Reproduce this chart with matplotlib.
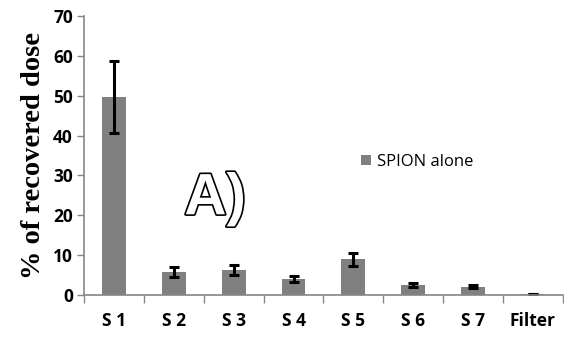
import matplotlib
matplotlib.use("Agg")
import matplotlib.pyplot as plt
import matplotlib.patheffects as pe
import numpy as np

categories = ["S 1", "S 2", "S 3", "S 4", "S 5", "S 6", "S 7", "Filter"]
values = [49.7, 5.8, 6.3, 4.0, 8.9, 2.6, 2.1, 0.2]
errors = [9.0, 1.2, 1.2, 0.8, 1.7, 0.5, 0.4, 0.0]
yticks = [0, 10, 20, 30, 40, 50, 60, 70]

fig = plt.figure(figsize=(5.64, 3.39), dpi=100)
ax = fig.add_axes([0.149, 0.13, 0.849, 0.823])
x = np.arange(len(categories))
ax.bar(x, values, width=0.4, color="#808080", yerr=errors,
       error_kw=dict(ecolor="black", elinewidth=2.2, capsize=3.5, capthick=2.2),
       label="SPION alone", zorder=2)
ax.set_xlim(-0.5, len(categories) - 0.5)
ax.set_ylim(0, 70)
ax.set_yticks(yticks)
ax.set_yticklabels([str(t) for t in yticks], fontfamily="Open Sans", fontweight="bold", fontsize=12.5)
ax.set_xticks(x)
ax.set_xticklabels(categories, fontfamily="Open Sans", fontweight="bold", fontsize=12.5)
ax.tick_params(axis="x", length=0, pad=12)
ax.set_xticks(np.arange(len(categories) + 1) - 0.5, minor=True)
ax.tick_params(axis="x", which="minor", length=6, color="#868686", width=1)
ax.tick_params(axis="y", length=5, color="#868686", width=1, pad=3)
for s in ["top", "right"]:
    ax.spines[s].set_visible(False)
for s in ["left", "bottom"]:
    ax.spines[s].set_color("#868686")
    ax.spines[s].set_linewidth(1.2)
ax.set_ylabel("% of recovered dose", fontfamily="Liberation Serif", fontweight="bold", fontsize=20.5, labelpad=5)

ax.legend(loc="upper left", bbox_to_anchor=(0.56, 0.535), frameon=False,
          prop=dict(family="Open Sans", size=12), handlelength=0.6, handleheight=0.6,
          handletextpad=0.4, borderpad=0)

ax.text(1.69, 24.0, "A)", fontsize=42, fontweight="bold", fontfamily="Liberation Sans",
        color="white", ha="center", va="center",
        path_effects=[pe.withStroke(linewidth=2.4, foreground="black")])

fig.savefig("out.png", dpi=100)
